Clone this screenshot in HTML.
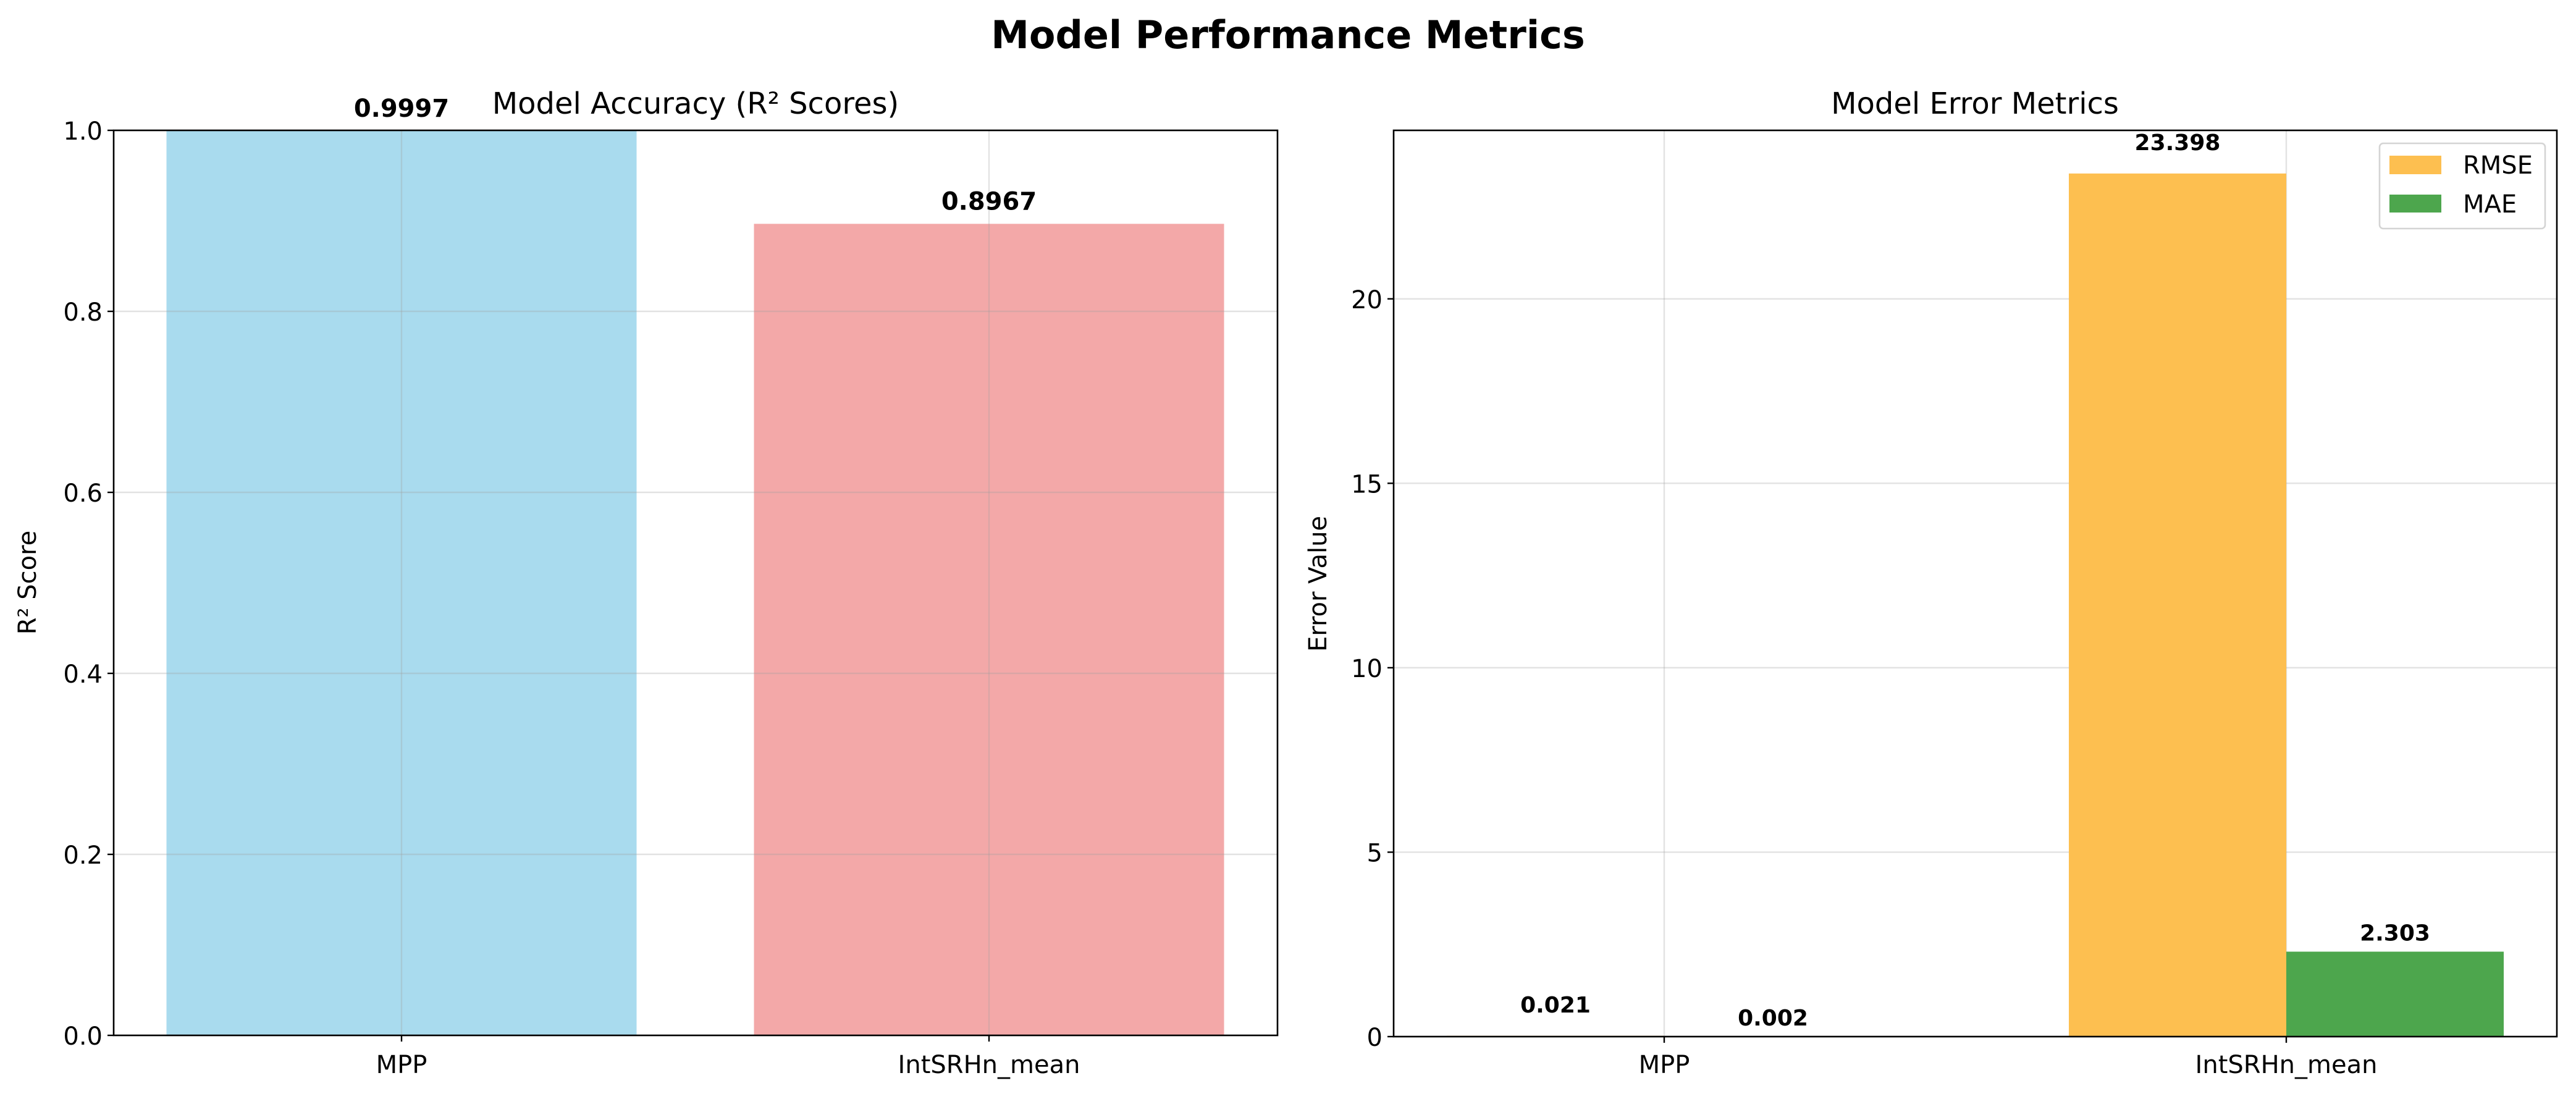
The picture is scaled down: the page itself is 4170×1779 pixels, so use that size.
<!DOCTYPE html>
<html><head><meta charset="utf-8"><style>
html,body{margin:0;padding:0;background:#fff}
svg{display:block;font-family:"DejaVu Sans","Liberation Sans",sans-serif}
</style></head><body>
<svg id="chart" width="4170" height="1779" viewBox="0 0 4170 1779" xmlns="http://www.w3.org/2000/svg">
<text x="2085" y="78" text-anchor="middle" font-size="62" font-weight="bold">Model Performance Metrics</text>
<g id="left"></g><g id="right"></g>
</svg>
<script>
const models = ["MPP", "IntSRHn_mean"];
const r2Values = [0.9997, 0.8967];
const r2Labels = ["0.9997", "0.8967"];
const r2Ticks = [0, 0.2, 0.4, 0.6, 0.8, 1.0];
const rmseValues = [0.021, 23.398];
const maeValues = [0.002, 2.303];
const rmseLabels = ["0.021", "23.398"];
const maeLabels = ["0.002", "2.303"];
const errTicks = [0, 5, 10, 15, 20];

const NS = "http://www.w3.org/2000/svg";
function mk(parent, tag, attrs, text) {
  const e = document.createElementNS(NS, tag);
  for (const k in attrs) e.setAttribute(k, attrs[k]);
  if (text !== undefined) e.textContent = text;
  parent.appendChild(e);
  return e;
}
const GRID = "rgba(160,160,160,0.3)";

// ---------- Left panel ----------
const L = document.getElementById("left");
const lx0 = 184, lx1 = 2068, plotTop = 211, lbot = 1676;
const lxs = i => 650 + i * 951;
const lys = v => lbot - (v / 1.0) * (lbot - plotTop);
models.forEach((m, i) => {
  const b = mk(L, "rect", {x: lxs(i) - 380.5, y: lys(r2Values[i]), width: 761, height: lbot - lys(r2Values[i]), fill: i === 0 ? "#a9dbee" : "#f3a8a8"});
  
  
});
r2Ticks.forEach(t => {
  const g = mk(L, "line", {x1: lx0, x2: lx1, y1: lys(t), y2: lys(t), stroke: GRID, "stroke-width": 2.4});
  
  
  mk(L, "line", {x1: lx0 - 10, x2: lx0, y1: lys(t), y2: lys(t), stroke: "#000", "stroke-width": 2.4});
  const tl = mk(L, "text", {x: lx0 - 18, y: lys(t) + 15, "text-anchor": "end", "font-size": 40}, t.toFixed(1));
  
  
});
models.forEach((m, i) => {
  const g = mk(L, "line", {x1: lxs(i), x2: lxs(i), y1: plotTop, y2: lbot, stroke: GRID, "stroke-width": 2.4});
  
  
  mk(L, "line", {x1: lxs(i), x2: lxs(i), y1: lbot, y2: lbot + 10, stroke: "#000", "stroke-width": 2.4});
  const xl = mk(L, "text", {x: lxs(i), y: 1737, "text-anchor": "middle", "font-size": 40}, m);
  
  
  const vl = mk(L, "text", {x: lxs(i), y: lys(r2Values[i] + 0.01) - 8, "text-anchor": "middle", "font-size": 40, "font-weight": "bold"}, r2Labels[i]);
  
  
});
const lf = mk(L, "rect", {x: lx0, y: plotTop, width: lx1 - lx0, height: lbot - plotTop, fill: "none", stroke: "#000", "stroke-width": 2.6});


const lt = mk(L, "text", {x: 1126, y: 184, "text-anchor": "middle", "font-size": 48}, "Model Accuracy (R² Scores)");


const lyl = mk(L, "text", {x: 58, y: 943, "text-anchor": "middle", "font-size": 40, transform: "rotate(-90 58 943)"}, "R² Score");



// ---------- Right panel ----------
const R = document.getElementById("right");
const rx0 = 2256, rx1 = 4139, rbot = 1678, ymax = 24.568;
const rxs = i => 2694 + i * 1007;
const rys = v => rbot - (v / ymax) * (rbot - plotTop);
const bw = 352;
errTicks.forEach(t => {
  const g = mk(R, "line", {x1: rx0, x2: rx1, y1: rys(t), y2: rys(t), stroke: GRID, "stroke-width": 2.4});
  
  
});
models.forEach((m, i) => {
  const g = mk(R, "line", {x1: rxs(i), x2: rxs(i), y1: plotTop, y2: rbot, stroke: GRID, "stroke-width": 2.4});
  
  
});
models.forEach((m, i) => {
  const a = mk(R, "rect", {x: rxs(i) - bw, y: rys(rmseValues[i]), width: bw, height: rbot - rys(rmseValues[i]), fill: "#fdbf50"});
  
  
  const b = mk(R, "rect", {x: rxs(i), y: rys(maeValues[i]), width: bw, height: rbot - rys(maeValues[i]), fill: "#4da64d"});
  
  
  const la = mk(R, "text", {x: rxs(i) - bw / 2, y: rys(rmseValues[i] + 0.5) - 8, "text-anchor": "middle", "font-size": 36, "font-weight": "bold"}, rmseLabels[i]);
  
  
  const lb = mk(R, "text", {x: rxs(i) + bw / 2, y: rys(maeValues[i] + 0.2) - 6, "text-anchor": "middle", "font-size": 36, "font-weight": "bold"}, maeLabels[i]);
  
  
  mk(R, "line", {x1: rxs(i), x2: rxs(i), y1: rbot, y2: rbot + 10, stroke: "#000", "stroke-width": 2.4});
  const xl = mk(R, "text", {x: rxs(i), y: 1737, "text-anchor": "middle", "font-size": 40}, m);
  
  
});
errTicks.forEach(t => {
  mk(R, "line", {x1: rx0 - 10, x2: rx0, y1: rys(t), y2: rys(t), stroke: "#000", "stroke-width": 2.4});
  const tl = mk(R, "text", {x: rx0 - 18, y: rys(t) + 15, "text-anchor": "end", "font-size": 40}, String(t));
  
  
});
const rf = mk(R, "rect", {x: rx0, y: plotTop, width: rx1 - rx0, height: rbot - plotTop, fill: "none", stroke: "#000", "stroke-width": 2.6});


const rt = mk(R, "text", {x: 3197, y: 184, "text-anchor": "middle", "font-size": 48}, "Model Error Metrics");


const ryl = mk(R, "text", {x: 2147, y: 945, "text-anchor": "middle", "font-size": 40, transform: "rotate(-90 2147 945)"}, "Error Value");



// legend
const lg = mk(R, "g", {});


mk(lg, "rect", {x: 3852, y: 232, width: 268, height: 138, rx: 6, fill: "#fff", "fill-opacity": 0.8, stroke: "#d4d4d4", "stroke-width": 2.6});
const e1 = mk(lg, "g", {});


mk(e1, "rect", {x: 3868, y: 252, width: 84, height: 30, fill: "#fdbf50"});
mk(e1, "text", {x: 3987, y: 281, "font-size": 40}, "RMSE");
const e2 = mk(lg, "g", {});


mk(e2, "rect", {x: 3868, y: 315, width: 84, height: 29, fill: "#4da64d"});
mk(e2, "text", {x: 3987, y: 344, "font-size": 40}, "MAE");
</script>
</body></html>
